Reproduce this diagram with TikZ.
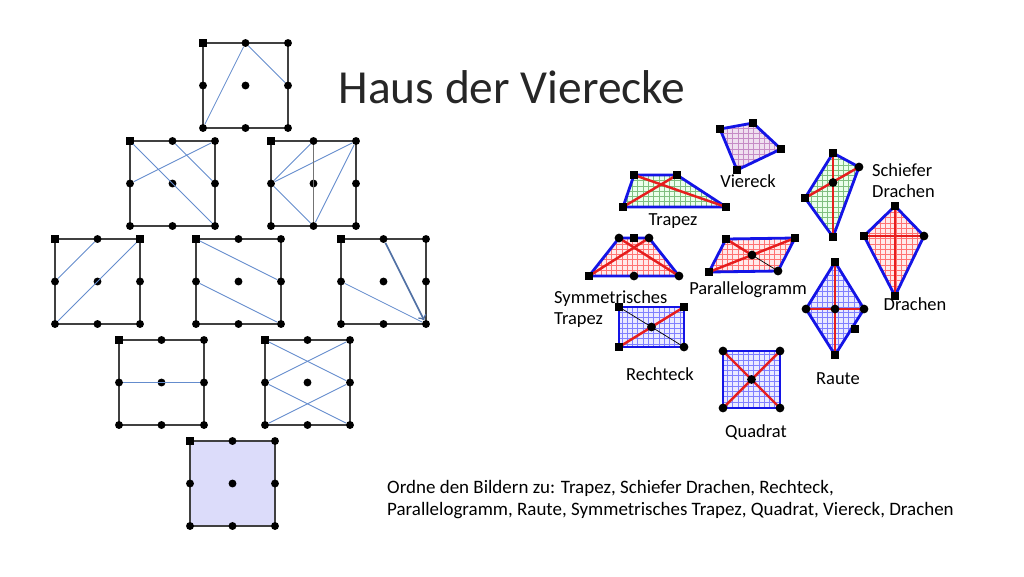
\documentclass[tikz,border=0pt]{standalone}
\usepackage{fontspec}
\setmainfont{Carlito}
\usetikzlibrary{positioning,arrows,patterns}
\definecolor{lila}{RGB}{220,220,250}
\definecolor{linblau}{RGB}{100,140,205}
\definecolor{randblau}{RGB}{20,20,230}
\definecolor{diagrot}{RGB}{230,30,30}
\tikzset{
  boxline/.style={draw=black!75,line width=0.8pt},
  gdot/.style={circle,fill=black,inner sep=0pt,minimum size=4.5pt},
  gsq/.style={rectangle,fill=black,inner sep=0pt,minimum size=4pt},
  linie/.style={draw=linblau,line width=0.5pt},
  rand/.style={draw=randblau,line width=1.6pt,line join=round},
  diag/.style={draw=diagrot,line width=1.4pt},
  ecke/.style={rectangle,fill=black,inner sep=0pt,minimum size=4pt},
  rund/.style={circle,fill=black,inner sep=0pt,minimum size=5pt},
  lbl/.style={font=\fontsize{10.5}{12}\selectfont,align=left}
}
% Kasten mit 3x3 Punkten: Name, x, y (links oben)
\newcommand{\hausbox}[3]{%
  \draw[boxline] (#2,#3) rectangle ++(85,85);
  \foreach \i in {0,1,2}
    \foreach \j in {0,1,2}
      \node[gdot] (#1-\i-\j) at ({#2+42.5*\i},{#3+42.5*\j}) {};
  \node[gsq] at (#1-0-0) {};
}
\begin{document}
\begin{tikzpicture}[x=0.02cm,y=-0.02cm]
  \useasboundingbox (0,0) rectangle (1024,576);

  \node[font=\fontsize{27}{32}\selectfont,text=black!85] (titel) at (512,87) {Haus der Vierecke};

  % Haus
  \hausbox{a}{203}{43}
  \draw[linie] (a-0-2) -- (a-1-0) -- (a-2-1);

  \hausbox{b}{130}{141}
  \draw[linie] (b-0-0) -- (b-2-2);
  \draw[linie] (b-0-1) -- (b-2-0);
  \draw[linie] (b-1-0) -- (b-2-1);

  \hausbox{c}{271}{141}
  \draw[linie] (c-0-1) -- (c-1-0);
  \draw[linie] (c-0-1) -- (c-2-0);
  \draw[linie] (c-0-1) -- (c-1-2);
  \draw[boxline,black!55] (c-1-0) -- (c-1-2);
  \draw[linie] (c-1-2) -- (c-2-0);

  \hausbox{d}{55}{239}
  \draw[linie] (d-0-1) -- (d-1-0);
  \draw[linie] (d-0-2) -- (d-2-0);
  \node[gsq] at (d-2-0) {};

  \hausbox{e}{196}{239}
  \draw[linie] (e-0-0) -- (e-2-1);
  \draw[linie] (e-0-1) -- (e-2-2);

  \hausbox{f}{341}{239}
  \draw[linie] (f-0-1) -- (f-2-2);
  \draw[->,draw=linblau!80!black,line width=0.9pt] (f-1-0) -- (f-2-2);

  \hausbox{g}{119}{340}
  \draw[linie] (g-0-1) -- (g-2-1);

  \hausbox{h}{265}{340}
  \draw[linie] (h-0-0) -- (h-2-1);
  \draw[linie] (h-0-1) -- (h-2-0);
  \draw[linie] (h-0-1) -- (h-2-2);
  \draw[linie] (h-0-2) -- (h-2-1);

  \fill[lila] (190,441) rectangle ++(85,85);
  \hausbox{k}{190}{441}

  % Viereck
  \coordinate (v1) at (720,129); \coordinate (v2) at (753,123);
  \coordinate (v3) at (781,149); \coordinate (v4) at (737,170);
  \fill[violet!12] (v1) -- (v2) -- (v3) -- (v4) -- cycle;
  \fill[pattern=grid,pattern color=violet!45] (v1) -- (v2) -- (v3) -- (v4) -- cycle;
  \draw[rand] (v1) -- (v2) -- (v3) -- (v4) -- cycle;
  \foreach \p in {v1,v2,v3,v4} \node[ecke] at (\p) {};
  \node[lbl] (lviereck) at (748,181) {Viereck};

  % Trapez
  \coordinate (t1) at (634,175); \coordinate (t2) at (677,175);
  \coordinate (t3) at (726,207); \coordinate (t4) at (623,207);
  \fill[green!8] (t1) -- (t2) -- (t3) -- (t4) -- cycle;
  \fill[pattern=grid,pattern color=green!50!black!50] (t1) -- (t2) -- (t3) -- (t4) -- cycle;
  \draw[rand] (t1) -- (t2) -- (t3) -- (t4) -- cycle;
  \draw[diag] (t1) -- (t3); \draw[diag] (t2) -- (t4);
  \foreach \p in {t1,t2,t3,t4} \node[ecke] at (\p) {};
  \node[lbl] (ltrapez) at (673,221) {Trapez};

  % Schiefer Drachen
  \coordinate (s1) at (833,153); \coordinate (s2) at (859,167);
  \coordinate (s3) at (833,237); \coordinate (s4) at (805,198);
  \fill[green!8] (s1) -- (s2) -- (s3) -- (s4) -- cycle;
  \fill[pattern=grid,pattern color=green!50!black!50] (s1) -- (s2) -- (s3) -- (s4) -- cycle;
  \draw[rand] (s1) -- (s2) -- (s3) -- (s4) -- cycle;
  \draw[diag] (s1) -- (s3); \draw[diag] (s4) -- (s2);
  \foreach \p in {s1,s3,s4} \node[ecke] at (\p) {};
  \node[rund] at (s2) {};
  \node[rund] at (833,182.5) {};
  \node[lbl,anchor=north west] (lschief) at (866,157) {Schiefer\\Drachen};

  % Drachen
  \coordinate (k1) at (895,206); \coordinate (k2) at (924,236);
  \coordinate (k3) at (895,296); \coordinate (k4) at (864,236);
  \fill[red!8] (k1) -- (k2) -- (k3) -- (k4) -- cycle;
  \fill[pattern=grid,pattern color=red!55] (k1) -- (k2) -- (k3) -- (k4) -- cycle;
  \draw[rand] (k1) -- (k2) -- (k3) -- (k4) -- cycle;
  \draw[diag] (k1) -- (k3); \draw[diag] (k4) -- (k2);
  \foreach \p in {k1,k3,k4} \node[ecke] at (\p) {};
  \node[rund] at (k2) {};
  \node[lbl] (ldrachen) at (915,304) {Drachen};

  % Symmetrisches Trapez
  \coordinate (y1) at (619,238); \coordinate (y2) at (649,238);
  \coordinate (y3) at (679,276); \coordinate (y4) at (589,276);
  \fill[red!8] (y1) -- (y2) -- (y3) -- (y4) -- cycle;
  \fill[pattern=grid,pattern color=red!55] (y1) -- (y2) -- (y3) -- (y4) -- cycle;
  \draw[rand] (y1) -- (y2) -- (y3) -- (y4) -- cycle;
  \draw[diag] (y1) -- (y3); \draw[diag] (y2) -- (y4);
  \foreach \p in {y1,y2,y3} \node[rund] at (\p) {};
  \node[ecke] at (y4) {};
  \node[ecke] at (634,238) {};
  \node[rund] at (634,276) {};
  \node[lbl,anchor=north west] (lsym) at (548,284) {Symmetrisches\\Trapez};

  % Parallelogramm
  \coordinate (p1) at (726,239); \coordinate (p2) at (795,238);
  \coordinate (p3) at (778,271); \coordinate (p4) at (709,272);
  \coordinate (pm) at (752,255);
  \fill[red!8] (p1) -- (p2) -- (p3) -- (p4) -- cycle;
  \fill[pattern=grid,pattern color=red!55] (p1) -- (p2) -- (p3) -- (p4) -- cycle;
  \draw[rand] (p1) -- (p2) -- (p3) -- (p4) -- cycle;
  \draw[diag] (p4) -- (p2); \draw[diag] (p1) -- (pm);
  \draw[black,line width=0.4pt] (pm) -- (p3);
  \foreach \p in {p1,p2,p4} \node[ecke] at (\p) {};
  \node[rund] at (p3) {}; \node[rund] at (pm) {};
  \node[lbl] (lpara) at (748,290) {Parallelogramm};

  % Rechteck
  \coordinate (r1) at (619,307); \coordinate (r2) at (684,307);
  \coordinate (r3) at (684,347); \coordinate (r4) at (619,347);
  \fill[blue!8] (r1) -- (r2) -- (r3) -- (r4) -- cycle;
  \fill[pattern=grid,pattern color=blue!50] (r1) -- (r2) -- (r3) -- (r4) -- cycle;
  \draw[rand] (r1) -- (r2) -- (r3) -- (r4) -- cycle;
  \draw[diag] (r4) -- (r2);
  \draw[black,line width=0.4pt] (r1) -- (r3);
  \foreach \p in {r1,r2,r4} \node[ecke] at (\p) {};
  \node[rund] at (r3) {}; \node[rund] at (651.5,327) {};
  \node[lbl] (lrecht) at (660,374) {Rechteck};

  % Quadrat
  \coordinate (q1) at (723,351); \coordinate (q2) at (780,351);
  \coordinate (q3) at (780,408); \coordinate (q4) at (723,408);
  \fill[blue!8] (q1) -- (q2) -- (q3) -- (q4) -- cycle;
  \fill[pattern=grid,pattern color=blue!50] (q1) -- (q2) -- (q3) -- (q4) -- cycle;
  \draw[rand] (q1) -- (q2) -- (q3) -- (q4) -- cycle;
  \draw[diag] (q1) -- (q3); \draw[diag] (q2) -- (q4);
  \foreach \p in {q1,q2,q3,q4} \node[rund] at (\p) {};
  \node[rund] at (751.5,379.5) {};
  \node[lbl] (lquad) at (756,432) {Quadrat};

  % Raute
  \coordinate (u1) at (835,262); \coordinate (u2) at (864,309);
  \coordinate (u3) at (835,355); \coordinate (u4) at (806,309);
  \fill[blue!8] (u1) -- (u2) -- (u3) -- (u4) -- cycle;
  \fill[pattern=grid,pattern color=blue!50] (u1) -- (u2) -- (u3) -- (u4) -- cycle;
  \draw[rand] (u1) -- (u2) -- (u3) -- (u4) -- cycle;
  \draw[diag] (u1) -- (u3); \draw[diag] (u4) -- (u2);
  \foreach \p in {u1,u3} \node[ecke] at (\p) {};
  \foreach \p in {u2,u4} \node[rund] at (\p) {};
  \node[rund] at (835,309) {};
  \node[ecke] at (855,329) {};
  \node[lbl] (lraute) at (838,379) {Raute};

  \node[anchor=north west,align=left,font=\fontsize{10.8}{12.6}\selectfont] (auftrag) at (381,474)
    {Ordne den Bildern zu: Trapez, Schiefer Drachen, Rechteck,\\
     Parallelogramm, Raute, Symmetrisches Trapez, Quadrat, Viereck, Drachen};
\end{tikzpicture}
\end{document}
